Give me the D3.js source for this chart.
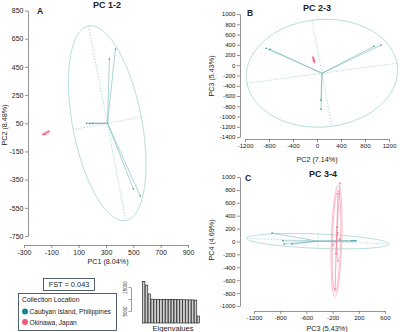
<!DOCTYPE html>
<html>
<head>
<meta charset="utf-8">
<script src="https://cdn.jsdelivr.net/npm/d3@7"></script>
<style>
  body { margin: 0; background: #fff; }
  text { font-family: "Liberation Sans", Arial, sans-serif; fill: #222; }
</style>
</head>
<body>
<svg id="fig" width="400" height="332"></svg>
<script>
var teal = "#17868c", pink = "#ee5a7e";
var groupNames = ["Caubyan Island, Philippines", "Okinawa, Japan"];

// PC1 vs PC2 scores
var pc12Caubyan = [[325, 505], [369, 577], [158, 50], [180, 48], [202, 50], [500, -416], [551, -466]];
var pc12Okinawa = [[-160, -30], [-152, -24], [-145, -28], [-136, -18], [-126, -12], [-118, -6]];
var pc12Centres = [[311, 50], [-140, -20]];
// ellipses: group, centre x, centre y, end of first axis x, y, end of second axis x, y
var pc12Ellipses = [[0, 309, 50, 173, 740, 558, 95], [1, -140, -20, -112, -12, -142, -8]];
var pc12XTicks = [-300, -100, 100, 300, 500, 700, 900];
var pc12YTicks = [850, 650, 450, 250, 50, -150, -350, -550, -750];

// PC2 vs PC3 scores
var pc23Caubyan = [[-850, 332], [-783, 312], [1067, 395], [950, 371], [67, -683], [67, -858]];
var pc23Okinawa = [[-67, 150], [-60, 125], [-55, 100], [-50, 85], [-45, 70]];
var pc23Centres = [[83, -156], [-55, 106]];
var pc23Ellipses = [[0, 83, -156, -83, 878, 1333, 39], [1, -55, 106, -70, 175, -35, 108]];
var pc23XTicks = [-1200, -800, -400, 0, 400, 800, 1200];
var pc23YTicks = [1000, 800, 600, 400, 200, 0, -200, -400, -600, -800, -1000, -1200, -1400];

// PC3 vs PC4 scores
var pc34Caubyan = [[-925, 130], [-757, 10], [-742, -40], [-620, -40], [296, 10], [327, 10], [357, 10]];
var pc34Okinawa = [[113, 907], [82, 736], [67, 225], [82, 132], [113, 39], [6, -54], [52, -194], [82, -302], [37, -736]];
var pc34Centres = [[-223, 5], [60, 8]];
var pc34Ellipses = [[0, -223, 5, 861, -39, -223, 116], [1, 60, 8, 82, 798, 121, 8], [1, 60, 8, 86, 870, 140, 8]];
var pc34XTicks = [-1200, -800, -400, 0, 400, 800];
var pc34XTickLabels = ["-1200", "-800", "-600", "-200", "200", "600"];
var pc34YTicks = [1000, 800, 600, 400, 200, 0, -200, -400, -600, -800, -1000];

// eigenvalues of the retained axes
var eigenvalues = [17300, 15800, 12100, 9950, 9900, 9880, 9850, 9820, 9800, 9780,
                   9760, 9740, 9720, 9700, 9680, 9660, 9640, 9600, 9550, 2900];
var eigTicks = [5000, 10000, 15000];
var eigTickLabels = ["5000", "", "15000"];

var fst = "FST = 0.043";

var svg = d3.select("#fig");

// plain integer labels, hyphen minus, no thousands separator
function plain(d) { return String(d); }

function ellipsePath(e, x, y) {
    var pts = d3.range(0, 361, 3).map(function (deg) {
        var t = deg * Math.PI / 180;
        return [x(e[1] + Math.cos(t) * (e[3] - e[1]) + Math.sin(t) * (e[5] - e[1])),
                y(e[2] + Math.cos(t) * (e[4] - e[2]) + Math.sin(t) * (e[6] - e[2]))];
    });
    return d3.line()(pts);
}

function drawPanel(p) {
    var g = svg.append("g");
    var groups = [
        { pts: p.caubyan, c: p.centres[0], col: "#2a8e93", light: "#a6d3d4", mid: "#72b4b7" },
        { pts: p.okinawa, c: p.centres[1], col: "#ef5f82", light: "#f6a9ba", mid: "#f2869f" }
    ];
    var seen = {};

    p.ellipses.forEach(function (e) {
        var gr = groups[e[0]];
        // ellipse outline
        g.append("path")
            .attr("d", ellipsePath(e, p.x, p.y))
            .attr("fill", "none")
            .attr("stroke", gr.light)
            .attr("stroke-width", 0.8);
        if (seen[e[0]]) return;
        seen[e[0]] = true;
        // dashed ellipse axes
        [[e[3], e[4]], [e[5], e[6]]].forEach(function (a) {
            g.append("line")
                .attr("x1", p.x(a[0])).attr("y1", p.y(a[1]))
                .attr("x2", p.x(2 * e[1] - a[0])).attr("y2", p.y(2 * e[2] - a[1]))
                .attr("stroke", gr.light)
                .attr("stroke-width", 0.8)
                .attr("stroke-dasharray", "1.5,1.5");
        });
    });

    groups.forEach(function (gr) {
        // spider lines from centre
        g.selectAll(null)
            .data(gr.pts)
            .enter().append("line")
            .attr("x1", p.x(gr.c[0])).attr("y1", p.y(gr.c[1]))
            .attr("x2", function (d) { return p.x(d[0]); })
            .attr("y2", function (d) { return p.y(d[1]); })
            .attr("stroke", gr.mid)
            .attr("stroke-width", 0.6);
        g.selectAll(null)
            .data(gr.pts)
            .enter().append("circle")
            .attr("cx", function (d) { return p.x(d[0]); })
            .attr("cy", function (d) { return p.y(d[1]); })
            .attr("r", 0.8)
            .attr("fill", gr.col);
    });

    var xAxis = d3.axisBottom(p.x).tickValues(p.xTicks).tickSize(3).tickSizeOuter(0).tickPadding(2)
        .tickFormat(p.xLabels ? function (d, i) { return p.xLabels[i]; } : plain);
    var ax = g.append("g")
        .attr("transform", "translate(0," + p.xAxisY + ")")
        .call(xAxis);
    var ay = g.append("g")
        .attr("transform", "translate(" + p.yAxisX + ",0)")
        .call(d3.axisLeft(p.y).tickValues(p.yTicks).tickSize(3).tickSizeOuter(0).tickPadding(1.5).tickFormat(plain));
    [ax, ay].forEach(function (a) {
        a.selectAll("path, line").attr("stroke", "#666").attr("stroke-width", 0.7);
        a.selectAll("text").attr("font-size", p.tickFont).attr("fill", "#222")
            .attr("font-family", "Liberation Sans, Arial, sans-serif");
    });

    g.append("text")
        .attr("x", p.titleX).attr("y", p.titleY)
        .attr("text-anchor", "middle")
        .attr("font-size", 9).attr("font-weight", "bold")
        .text(p.title);
    g.append("text")
        .attr("x", p.letter[1]).attr("y", p.letter[2])
        .attr("font-size", 8.5).attr("font-weight", "bold")
        .text(p.letter[0]);
    g.append("text")
        .attr("x", p.xLab[1]).attr("y", p.xLab[2])
        .attr("text-anchor", "middle")
        .attr("font-size", 7.2)
        .text(p.xLab[0]);
    g.append("text")
        .attr("transform", "translate(" + p.yLab[1] + "," + p.yLab[2] + ") rotate(-90)")
        .attr("text-anchor", "middle")
        .attr("font-size", 7.2)
        .text(p.yLab[0]);
}

drawPanel({
    x: d3.scaleLinear().domain([-300, 900]).range([24, 188]),
    y: d3.scaleLinear().domain([-750, 850]).range([236, 10.5]),
    caubyan: pc12Caubyan, okinawa: pc12Okinawa, centres: pc12Centres, ellipses: pc12Ellipses,
    xTicks: pc12XTicks, yTicks: pc12YTicks, xAxisY: 245, yAxisX: 28, tickFont: 7,
    title: "PC 1-2", titleX: 107, titleY: 7.5, letter: ["A", 37, 14],
    xLab: ["PC1 (8.04%)", 108, 264], yLab: ["PC2 (8.48%)", 7, 125]
});

drawPanel({
    x: d3.scaleLinear().domain([-1200, 1200]).range([245, 389]),
    y: d3.scaleLinear().domain([-1400, 1000]).range([137, 14]),
    caubyan: pc23Caubyan, okinawa: pc23Okinawa, centres: pc23Centres, ellipses: pc23Ellipses,
    xTicks: pc23XTicks, yTicks: pc23YTicks, xAxisY: 139, yAxisX: 240, tickFont: 6.2,
    title: "PC 2-3", titleX: 317, titleY: 11, letter: ["B", 247, 16],
    xLab: ["PC2 (7.14%)", 317, 162], yLab: ["PC3 (5.43%)", 214, 76]
});

drawPanel({
    x: d3.scaleLinear().domain([-1200, 800]).range([254, 385]),
    y: d3.scaleLinear().domain([-1000, 1000]).range([306, 177]),
    caubyan: pc34Caubyan, okinawa: pc34Okinawa, centres: pc34Centres, ellipses: pc34Ellipses,
    xTicks: pc34XTicks, xLabels: pc34XTickLabels, yTicks: pc34YTicks, xAxisY: 311, yAxisX: 240, tickFont: 6.2,
    title: "PC 3-4", titleX: 323, titleY: 177, letter: ["C", 245, 181],
    xLab: ["PC3 (5.43%)", 327, 331], yLab: ["PC4 (4.69%)", 214, 240]
});

// eigenvalue barplot
var eb = svg.append("g");
var ex = d3.scaleBand().domain(d3.range(eigenvalues.length)).range([142, 200]).padding(0.12);
var ey = d3.scaleLinear().domain([0, 15000]).range([323, 287]);
eb.selectAll("rect")
    .data(eigenvalues)
    .enter().append("rect")
    .attr("x", function (d, i) { return ex(i); })
    .attr("width", ex.bandwidth())
    .attr("y", function (d) { return ey(d); })
    .attr("height", function (d) { return ey(0) - ey(d); })
    .attr("fill", "#cfcfcf")
    .attr("stroke", "#111")
    .attr("stroke-width", 0.6);
var eax = eb.append("g")
    .attr("transform", "translate(131,0)")
    .call(d3.axisLeft(d3.scaleLinear().domain([5000, 15000]).range([ey(5000), ey(15000)]))
        .tickValues(eigTicks).tickSize(2.5).tickSizeOuter(0)
        .tickFormat(function (d, i) { return eigTickLabels[i]; }));
eax.selectAll("path, line").attr("stroke", "#555").attr("stroke-width", 0.6);
eax.selectAll("text")
    .attr("transform", "rotate(-90)")
    .attr("x", 0).attr("y", -4).attr("dy", 0)
    .attr("text-anchor", "middle")
    .attr("font-size", 4.6).attr("fill", "#222");
eb.append("text")
    .attr("x", 173).attr("y", 331)
    .attr("text-anchor", "middle")
    .attr("font-size", 7.5)
    .text("Eigenvalues");

// FST box
svg.append("rect")
    .attr("x", 43.5).attr("y", 278.5).attr("width", 51).attr("height", 12)
    .attr("fill", "#fff").attr("stroke", "#3f4f60").attr("stroke-width", 0.9);
svg.append("text")
    .attr("x", 69).attr("y", 287.3)
    .attr("text-anchor", "middle")
    .attr("font-size", 7.4)
    .text(fst);

// legend
var lg = svg.append("g");
lg.append("rect")
    .attr("x", 18.5).attr("y", 293.5).attr("width", 98).attr("height", 37)
    .attr("fill", "#fff").attr("stroke", "#3f4f60").attr("stroke-width", 0.9);
lg.append("text")
    .attr("x", 22).attr("y", 302)
    .attr("font-size", 6.8)
    .text("Collection Location");
lg.selectAll("circle")
    .data(groupNames)
    .enter().append("circle")
    .attr("cx", 25)
    .attr("cy", function (d, i) { return 311.5 + i * 10.5; })
    .attr("r", 3)
    .attr("fill", function (d, i) { return i === 0 ? teal : pink; });
lg.selectAll("text.item")
    .data(groupNames)
    .enter().append("text")
    .attr("class", "item")
    .attr("x", 29.5)
    .attr("y", function (d, i) { return 314 + i * 10.5; })
    .attr("font-size", 6.6)
    .text(function (d) { return d; });
</script>
</body>
</html>
